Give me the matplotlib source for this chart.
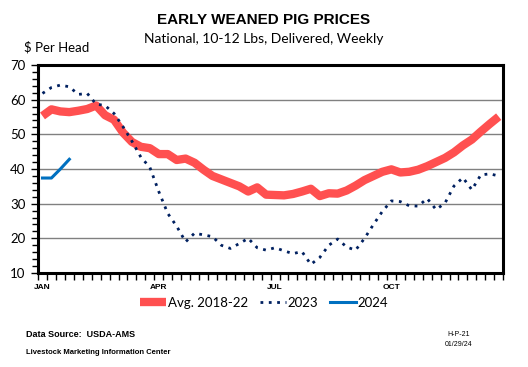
import numpy as np
import matplotlib.pyplot as plt
from matplotlib.ticker import MultipleLocator, FixedLocator, NullFormatter

# -------- DATA (weekly, $ per head) --------
avg_2018_22 = [55.3, 57.2, 56.6, 56.4, 56.8, 57.3, 58.3, 55.5, 54.2, 50.5,
               47.8, 46.4, 46.0, 44.3, 44.3, 42.6, 43.0, 41.8, 39.8, 38.0,
               37.0, 36.0, 35.0, 33.5, 34.7, 32.6, 32.5, 32.4, 32.8, 33.5,
               34.3, 32.2, 33.0, 32.9, 33.8, 35.2, 36.8, 38.0, 39.2, 39.9,
               39.0, 39.2, 39.8, 40.8, 42.0, 43.2, 44.8, 46.8, 48.5, 50.8,
               53.0, 55.1]
y2023 = [61.8, 63.5, 64.2, 63.7, 61.5, 61.8, 58.7, 58.3, 56.0, 52.2,
         48.0, 43.4, 40.5, 33.5, 27.2, 23.5, 19.0, 21.5, 21.0, 20.5,
         18.0, 17.1, 18.5, 20.0, 17.3, 16.6, 17.3, 16.4, 15.6, 16.2,
         12.5, 14.5, 18.0, 19.8, 17.5, 16.6, 20.0, 24.0, 27.8, 30.8,
         30.6, 29.4, 29.3, 31.5, 28.3, 30.2, 35.1, 37.5, 34.0, 38.3,
         38.6, 38.0]
y2024 = [37.4, 37.4, 40.0, 42.8]
month_labels = ["JAN", "APR", "JUL", "OCT"]
month_weeks = [1, 14, 27, 40]
# -------------------------------------------

RED = "#FF5050"
NAVY = "#002060"
BLUE = "#0070C0"

plt.rcParams["font.family"] = ["Liberation Sans", "DejaVu Sans"]

fig = plt.figure(figsize=(5.28, 3.67), dpi=100)
ax = fig.add_axes([0.072, 0.256, 0.881, 0.567])

weeks = np.arange(1, 53)
ax.plot(weeks, avg_2018_22, color=RED, lw=6, solid_capstyle="butt",
        label="Avg. 2018-22", zorder=3)
ax.plot(weeks, y2023, color=NAVY, lw=2, ls=(0, (1, 2)),
        label="2023", zorder=4)
ax.plot(weeks[:len(y2024)], y2024, color=BLUE, lw=2.2, label="2024", zorder=5)

ax.set_xlim(0.5, 52.5)
ax.set_ylim(10, 70)

# grid
for g in range(20, 70, 10):
    ax.axhline(g, color="#808080", lw=1, zorder=1)

# y ticks
ax.yaxis.set_major_locator(MultipleLocator(10))
ax.yaxis.set_minor_locator(MultipleLocator(2))
ax.tick_params(axis="y", which="major", length=5, width=1, labelsize=9.5,
               pad=4, direction="out")
ax.tick_params(axis="y", which="minor", length=4, width=1, direction="out")
for t in ax.get_yticklabels():
    t.set_fontfamily(["Lato", "DejaVu Sans"])

# x ticks: one per week boundary, month labels centered in week
ax.xaxis.set_minor_locator(FixedLocator(np.arange(0.5, 53, 1)))
ax.xaxis.set_minor_formatter(NullFormatter())
ax.set_xticks(month_weeks)
ax.set_xticklabels(month_labels, fontsize=6, fontweight="bold")
ax.tick_params(axis="x", which="major", length=0, pad=8)
ax.tick_params(axis="x", which="minor", length=5, width=1, direction="out")

for s in ax.spines.values():
    s.set_linewidth(2.2)
    s.set_color("black")

# titles
fig.text(0.5, 0.945, "EARLY WEANED PIG PRICES", ha="center", va="center",
         fontsize=11, fontweight="bold")
fig.text(0.5, 0.895, "National, 10-12 Lbs, Delivered, Weekly", ha="center",
         va="center", fontsize=10, family=["Lato", "DejaVu Sans"])
fig.text(0.045, 0.872, "$ Per Head", ha="left", va="center", fontsize=9.5,
         family=["Lato", "DejaVu Sans"])

# legend
leg = fig.legend(loc="center", bbox_to_anchor=(0.5, 0.175), ncol=3,
                 frameon=False, handlelength=2.0,
                 handletextpad=0.1, columnspacing=0.9,
                 prop={"family": ["Lato", "DejaVu Sans"], "size": 9.5})

# footer
fig.text(0.05, 0.088, "Data Source:  USDA-AMS", fontsize=6.5,
         fontweight="bold", va="center")
fig.text(0.05, 0.04, "Livestock Marketing Information Center", fontsize=5.5,
         fontweight="bold", va="center")
fig.text(0.868, 0.088, "H-P-21", fontsize=5, ha="center", va="center")
fig.text(0.868, 0.062, "01/29/24", fontsize=5, ha="center", va="center")

fig.savefig("out.png", dpi=100)
